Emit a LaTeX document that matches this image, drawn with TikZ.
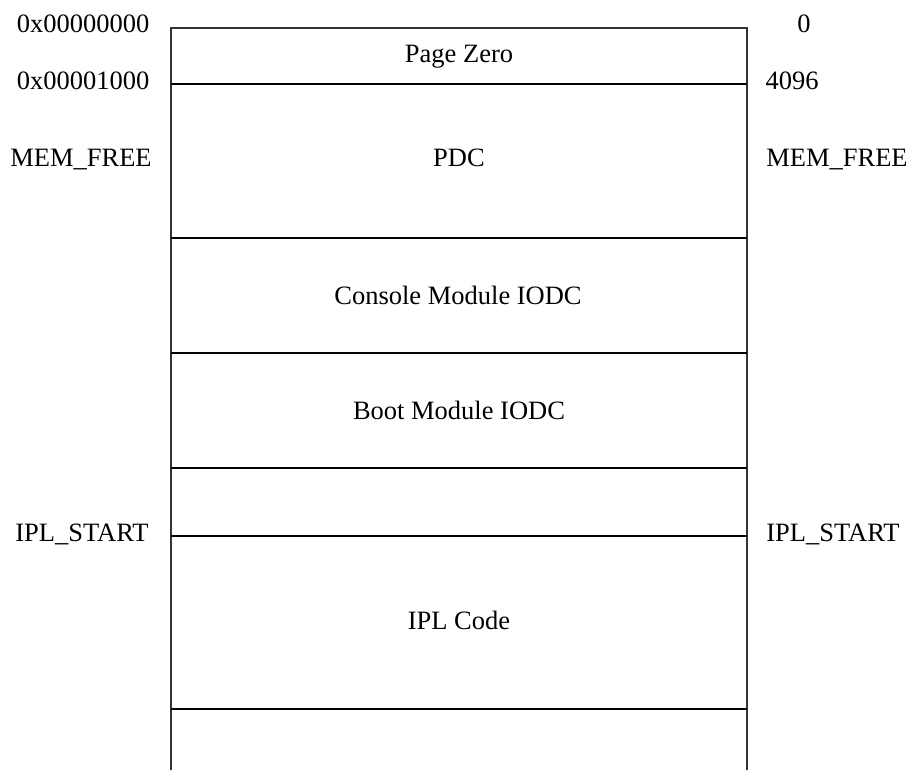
\documentclass[tikz,border=0pt]{standalone}
\usepackage{fontspec}
\setmainfont{Liberation Serif}
\begin{document}
\begin{tikzpicture}[x=1pt,y=-1pt,
  lbl/.style={inner sep=0pt,anchor=base,font=\fontsize{26.5}{30}\selectfont},
  wall/.style={line width=1.2pt,black!80},
  sep/.style={line width=1.2pt,black}]
\useasboundingbox (0,0) rectangle (909,770);
% box
\coordinate (tl) at (171,28);
\coordinate (tr) at (747,28);
\coordinate (bl) at (171,770);
\coordinate (br) at (747,770);
\draw[wall] (bl) -- (tl) -- (tr) -- (br);
\foreach \y/\n in {84/a,238/b,353/c,468/d,536/e,709/f}{
  \coordinate (L\n) at (171,\y);
  \coordinate (R\n) at (747,\y);
  \draw[sep] (L\n) -- (R\n);
}
% section texts
\node[lbl] (pz) at (459,63) {Page Zero};
\node[lbl] (pdc) at (459,167) {PDC};
\node[lbl] (cons) at (458,304) {Console Module IODC};
\node[lbl] (boot) at (459,419) {Boot Module IODC};
\node[lbl] (ipl) at (459,629) {IPL Code};
% left labels
\node[lbl] (l0) at (83,33) {0x00000000};
\node[lbl] (l1) at (83,90) {0x00001000};
\node[lbl] (l2) at (81,167) {MEM\_FREE};
\node[lbl] (l3) at (82,541) {IPL\_START};
% right labels
\node[lbl] (r0) at (804,33) {0};
\node[lbl] (r1) at (792,90) {4096};
\node[lbl] (r2) at (837,167) {MEM\_FREE};
\node[lbl] (r3) at (833,541) {IPL\_START};
\end{tikzpicture}
\end{document}
